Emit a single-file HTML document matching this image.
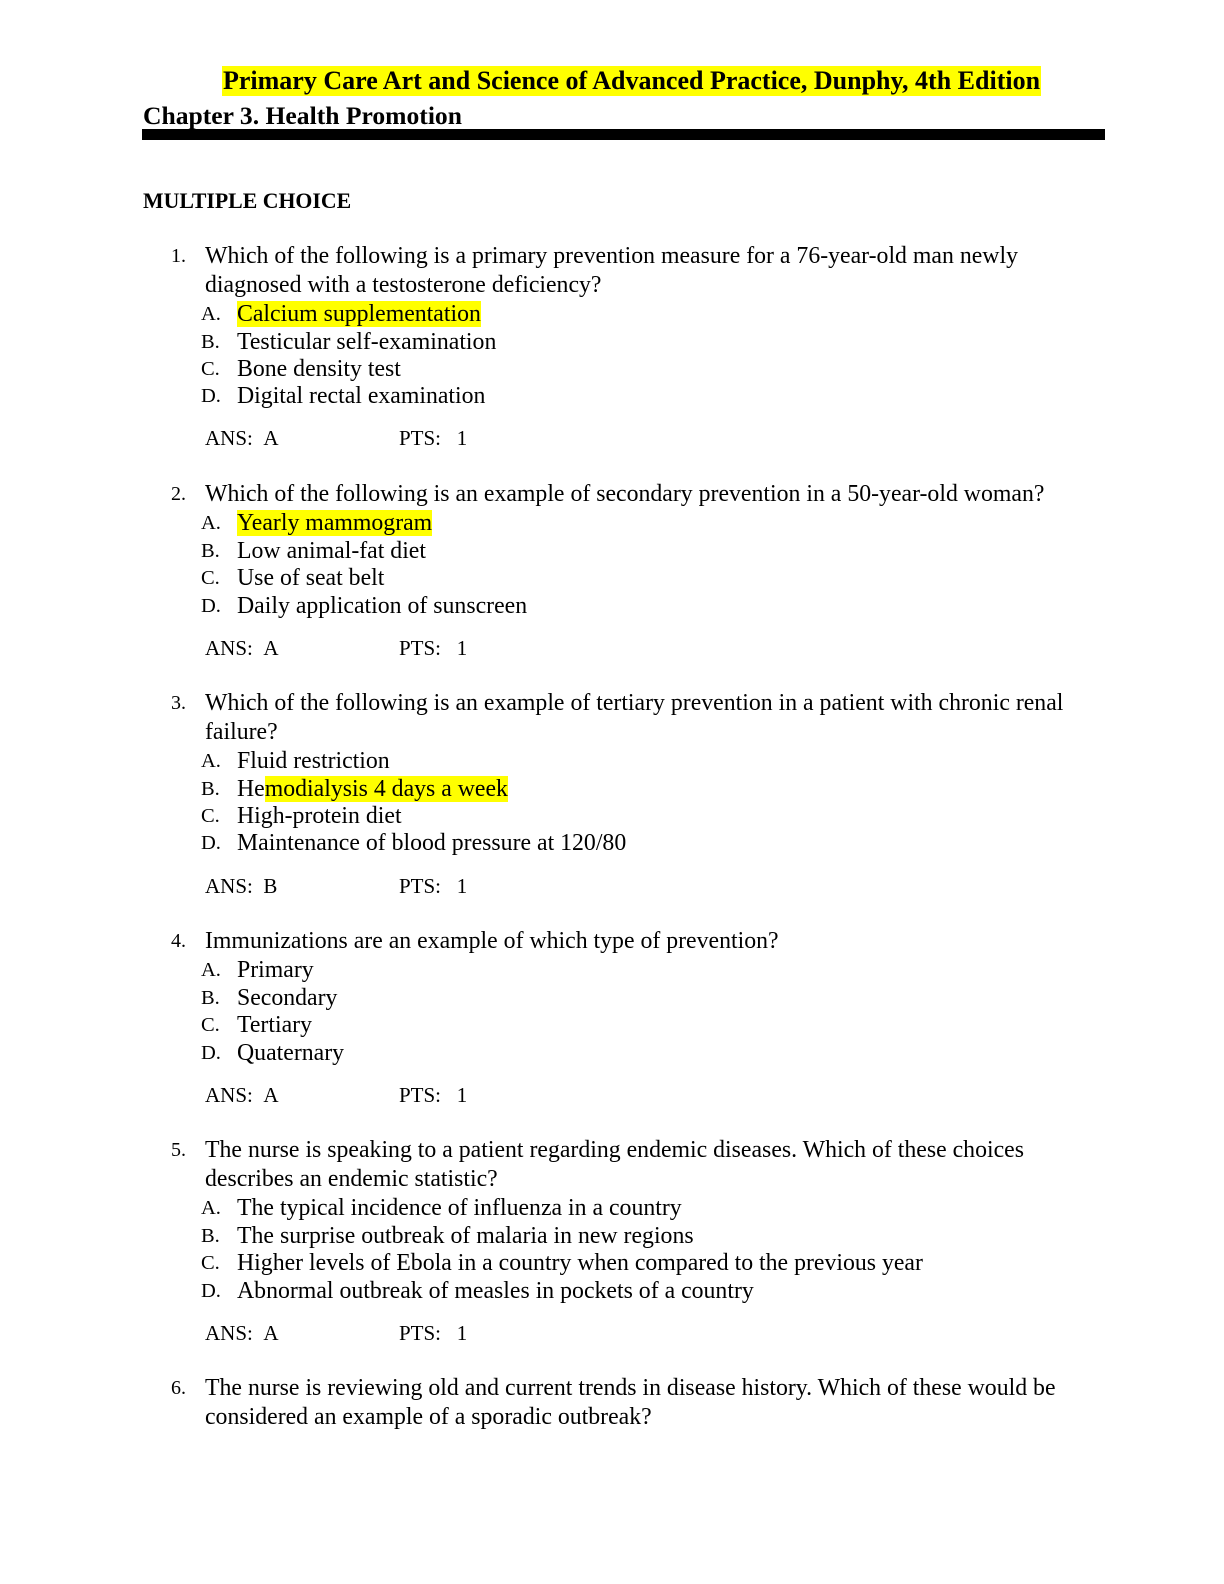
<!DOCTYPE html>
<html><head><meta charset="utf-8"><style>
body{margin:0;width:1224px;height:1584px;background:#fff;position:relative;font-family:"Liberation Serif",serif;color:#000;overflow:hidden}
div{position:absolute;white-space:nowrap;line-height:28px;font-size:23.8px}
.n{left:171px;font-size:20px}
.q{left:205px}
.l{left:201px;font-size:20.5px}
.o{left:237px}
.h{background:#ffff00}
.a{left:205px;font-size:21px}
.p{left:399px;font-size:21px}
</style></head><body>
<div style="left:222px;top:66px;height:30px;line-height:30px;font-size:26px;font-weight:bold;background:#ffff00;padding:0 1px">Primary Care Art and Science of Advanced Practice, Dunphy, 4th Edition</div>
<div style="left:143px;top:102px;font-size:25.6px;font-weight:bold">Chapter 3. Health Promotion</div>
<div style="left:142px;top:129px;width:963px;height:11px;background:#000"></div>
<div style="left:143px;top:187px;font-size:21.8px;font-weight:bold">MULTIPLE CHOICE</div>

<div class="n" style="top:242px">1.</div>
<div class="q" style="top:242px">Which of the following is a primary prevention measure for a 76-year-old man newly</div>
<div class="q" style="top:271px">diagnosed with a testosterone deficiency?</div>
<div class="l" style="top:300px">A.</div><div class="o" style="top:300px"><span class="h">Calcium supplementation</span></div>
<div class="l" style="top:328px">B.</div><div class="o" style="top:328px">Testicular self-examination</div>
<div class="l" style="top:355px">C.</div><div class="o" style="top:355px">Bone density test</div>
<div class="l" style="top:382px">D.</div><div class="o" style="top:382px">Digital rectal examination</div>
<div class="a" style="top:424px">ANS:&nbsp;&nbsp;A</div><div class="p" style="top:424px">PTS:&nbsp;&nbsp;&nbsp;1</div>

<div class="n" style="top:480px">2.</div>
<div class="q" style="top:480px">Which of the following is an example of secondary prevention in a 50-year-old woman?</div>
<div class="l" style="top:509px">A.</div><div class="o" style="top:509px"><span class="h">Yearly mammogram</span></div>
<div class="l" style="top:537px">B.</div><div class="o" style="top:537px">Low animal-fat diet</div>
<div class="l" style="top:564px">C.</div><div class="o" style="top:564px">Use of seat belt</div>
<div class="l" style="top:592px">D.</div><div class="o" style="top:592px">Daily application of sunscreen</div>
<div class="a" style="top:634px">ANS:&nbsp;&nbsp;A</div><div class="p" style="top:634px">PTS:&nbsp;&nbsp;&nbsp;1</div>

<div class="n" style="top:689px">3.</div>
<div class="q" style="top:689px">Which of the following is an example of tertiary prevention in a patient with chronic renal</div>
<div class="q" style="top:718px">failure?</div>
<div class="l" style="top:747px">A.</div><div class="o" style="top:747px">Fluid restriction</div>
<div class="l" style="top:775px">B.</div><div class="o" style="top:775px">He<span class="h">modialysis 4 days a week</span></div>
<div class="l" style="top:802px">C.</div><div class="o" style="top:802px">High-protein diet</div>
<div class="l" style="top:829px">D.</div><div class="o" style="top:829px">Maintenance of blood pressure at 120/80</div>
<div class="a" style="top:872px">ANS:&nbsp;&nbsp;B</div><div class="p" style="top:872px">PTS:&nbsp;&nbsp;&nbsp;1</div>

<div class="n" style="top:927px">4.</div>
<div class="q" style="top:927px">Immunizations are an example of which type of prevention?</div>
<div class="l" style="top:956px">A.</div><div class="o" style="top:956px">Primary</div>
<div class="l" style="top:984px">B.</div><div class="o" style="top:984px">Secondary</div>
<div class="l" style="top:1011px">C.</div><div class="o" style="top:1011px">Tertiary</div>
<div class="l" style="top:1039px">D.</div><div class="o" style="top:1039px">Quaternary</div>
<div class="a" style="top:1081px">ANS:&nbsp;&nbsp;A</div><div class="p" style="top:1081px">PTS:&nbsp;&nbsp;&nbsp;1</div>

<div class="n" style="top:1136px">5.</div>
<div class="q" style="top:1136px">The nurse is speaking to a patient regarding endemic diseases. Which of these choices</div>
<div class="q" style="top:1165px">describes an endemic statistic?</div>
<div class="l" style="top:1194px">A.</div><div class="o" style="top:1194px">The typical incidence of influenza in a country</div>
<div class="l" style="top:1222px">B.</div><div class="o" style="top:1222px">The surprise outbreak of malaria in new regions</div>
<div class="l" style="top:1249px">C.</div><div class="o" style="top:1249px">Higher levels of Ebola in a country when compared to the previous year</div>
<div class="l" style="top:1277px">D.</div><div class="o" style="top:1277px">Abnormal outbreak of measles in pockets of a country</div>
<div class="a" style="top:1319px">ANS:&nbsp;&nbsp;A</div><div class="p" style="top:1319px">PTS:&nbsp;&nbsp;&nbsp;1</div>

<div class="n" style="top:1374px">6.</div>
<div class="q" style="top:1374px">The nurse is reviewing old and current trends in disease history. Which of these would be</div>
<div class="q" style="top:1403px">considered an example of a sporadic outbreak?</div>
</body></html>
